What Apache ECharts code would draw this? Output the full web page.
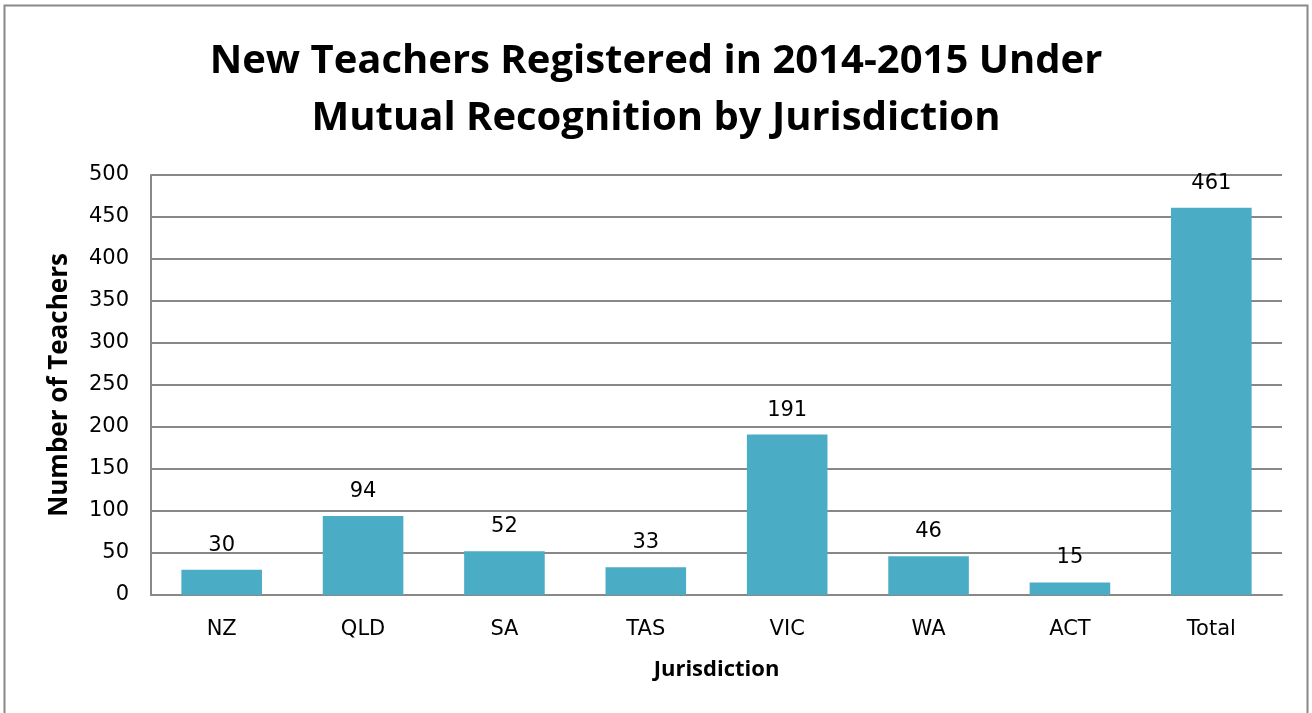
<!DOCTYPE html>
<html>
<head>
<meta charset="utf-8">
<script src="https://cdn.jsdelivr.net/npm/echarts@6/dist/echarts.min.js"></script>
<style>
  html, body { margin: 0; padding: 0; background: #fff; }
  #chart { width: 1312px; height: 713px; }
</style>
</head>
<body>
<div id="chart"></div>
<script>
  const categories = ['NZ', 'QLD', 'SA', 'TAS', 'VIC', 'WA', 'ACT', 'Total'];
  const teachers = [30, 94, 52, 33, 191, 46, 15, 461];
  const titleText = 'New Teachers Registered in 2014-2015 Under\nMutual Recognition by Jurisdiction';

  const chart = echarts.init(document.getElementById('chart'));
  const font = 'DejaVu Sans';
  const titleFont = '"Open Sans", "Liberation Sans", sans-serif';

  chart.setOption({
    backgroundColor: '#fff',
    animation: false,
    title: {
      text: titleText,
      left: 'center',
      top: 28,
      textStyle: {
        fontFamily: titleFont,
        fontWeight: 'bold',
        fontSize: 40,
        lineHeight: 57,
        color: '#000'
      }
    },
    graphic: [{
      type: 'rect',
      shape: { x: 4.5, y: 5.5, width: 1303, height: 760 },
      style: { fill: 'none', stroke: '#888', lineWidth: 2 },
      silent: true
    }],
    grid: { left: 151, right: 30, top: 175, bottom: 118 },
    xAxis: {
      type: 'category',
      data: categories,
      name: 'Jurisdiction',
      nameLocation: 'middle',
      nameGap: 64,
      nameTextStyle: { fontFamily: titleFont, fontWeight: 'bold', fontSize: 22, color: '#000' },
      axisLine: { lineStyle: { color: '#888', width: 2 } },
      axisTick: { show: false },
      axisLabel: { fontFamily: font, fontSize: 21, color: '#000', margin: 24 }
    },
    yAxis: {
      type: 'value',
      min: 0,
      max: 500,
      interval: 50,
      name: 'Number of Teachers',
      nameLocation: 'middle',
      nameGap: 78,
      nameTextStyle: { fontFamily: titleFont, fontWeight: 'bold', fontSize: 26, color: '#000' },
      axisLine: { show: true, lineStyle: { color: '#888', width: 2 } },
      axisTick: { show: false },
      axisLabel: { fontFamily: font, fontSize: 21, color: '#000', margin: 22 },
      splitLine: { lineStyle: { color: '#888', width: 2 } }
    },
    series: [{
      type: 'bar',
      data: teachers,
      barWidth: '57%',
      itemStyle: { color: '#4BACC6' },
      label: {
        show: true,
        position: 'top',
        distance: 14,
        fontFamily: font,
        fontSize: 21,
        color: '#000'
      }
    }]
  });
</script>
</body>
</html>
